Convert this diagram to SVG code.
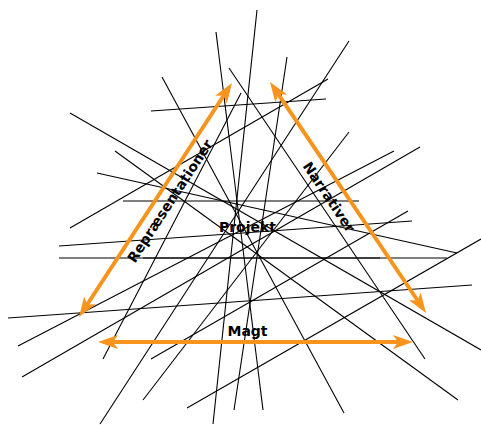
<svg xmlns="http://www.w3.org/2000/svg" width="481" height="425" viewBox="0 0 481 425">
  <style>
    .ln { stroke: #000; stroke-width: 1.1; fill: none; }
    .ar { stroke: #F7941D; stroke-width: 4; fill: none; marker-start: url(#ah); marker-end: url(#ah); }
    .lbl { font-family: "DejaVu Sans", Verdana, sans-serif; font-weight: bold; font-size: 14px; fill: #000; text-anchor: middle; }
  </style>
  <defs>
    <marker id="ah" markerUnits="userSpaceOnUse" viewBox="-25 -10 30 20" markerWidth="30" markerHeight="20" refX="-12" refY="0" orient="auto-start-reverse" overflow="visible">
      <path d="M0,0 L-20,-7 L-15,0 L-20,7 Z" fill="#F7941D"/>
    </marker>
  </defs>
  <rect width="481" height="425" fill="#fff"/>
  <g id="connectors">
    <line class="ln" x1="216" y1="32" x2="263" y2="410"/>
    <line class="ln" x1="257" y1="10" x2="213" y2="424"/>
    <line class="ln" x1="287" y1="57" x2="234" y2="410"/>
    <line class="ln" x1="349" y1="41" x2="100" y2="424"/>
    <line class="ln" x1="349" y1="132" x2="143" y2="400"/>
    <line class="ln" x1="151" y1="111" x2="326" y2="99"/>
    <line class="ln" x1="70" y1="228" x2="328" y2="79"/>
    <line class="ln" x1="162" y1="77" x2="344" y2="413"/>
    <line class="ln" x1="229" y1="68" x2="425" y2="359"/>
    <line class="ln" x1="70" y1="113" x2="481" y2="350"/>
    <line class="ln" x1="115" y1="151" x2="458" y2="400"/>
    <line class="ln" x1="97" y1="173" x2="457" y2="253"/>
    <line class="ln" x1="123" y1="201" x2="359" y2="201"/>
    <line class="ln" x1="59" y1="258" x2="380" y2="258"/>
    <line class="ln" x1="143" y1="258" x2="447" y2="258"/>
    <line class="ln" x1="59" y1="246" x2="412" y2="221"/>
    <line class="ln" x1="8" y1="318" x2="472" y2="285"/>
    <line class="ln" x1="18" y1="346" x2="394" y2="151"/>
    <line class="ln" x1="22" y1="377" x2="420" y2="147"/>
    <line class="ln" x1="187" y1="408" x2="481" y2="239"/>
    <line class="ln" x1="151" y1="359" x2="408" y2="211"/>
    <line class="ln" x1="241" y1="93" x2="103" y2="359"/>
    <line class="ar" x1="85.6" y1="307" x2="225.4" y2="93"/>
    <line class="ar" x1="276.7" y1="91.9" x2="419.3" y2="303"/>
    <line class="ar" x1="110" y1="342" x2="401" y2="342"/>
  </g>
  <g id="node-representationer">
    <text class="lbl" transform="translate(170,201) rotate(-56.8)" dy="0.35em">Repræsentationer</text>
  </g>
  <g id="node-narrativer">
    <text class="lbl" transform="translate(329,197) rotate(56.2)" dy="0.35em">Narrativer</text>
  </g>
  <g id="node-projekt">
    <text class="lbl" x="247.5" y="232">Projekt</text>
  </g>
  <g id="node-magt">
    <text class="lbl" x="247.5" y="336">Magt</text>
  </g>
</svg>
